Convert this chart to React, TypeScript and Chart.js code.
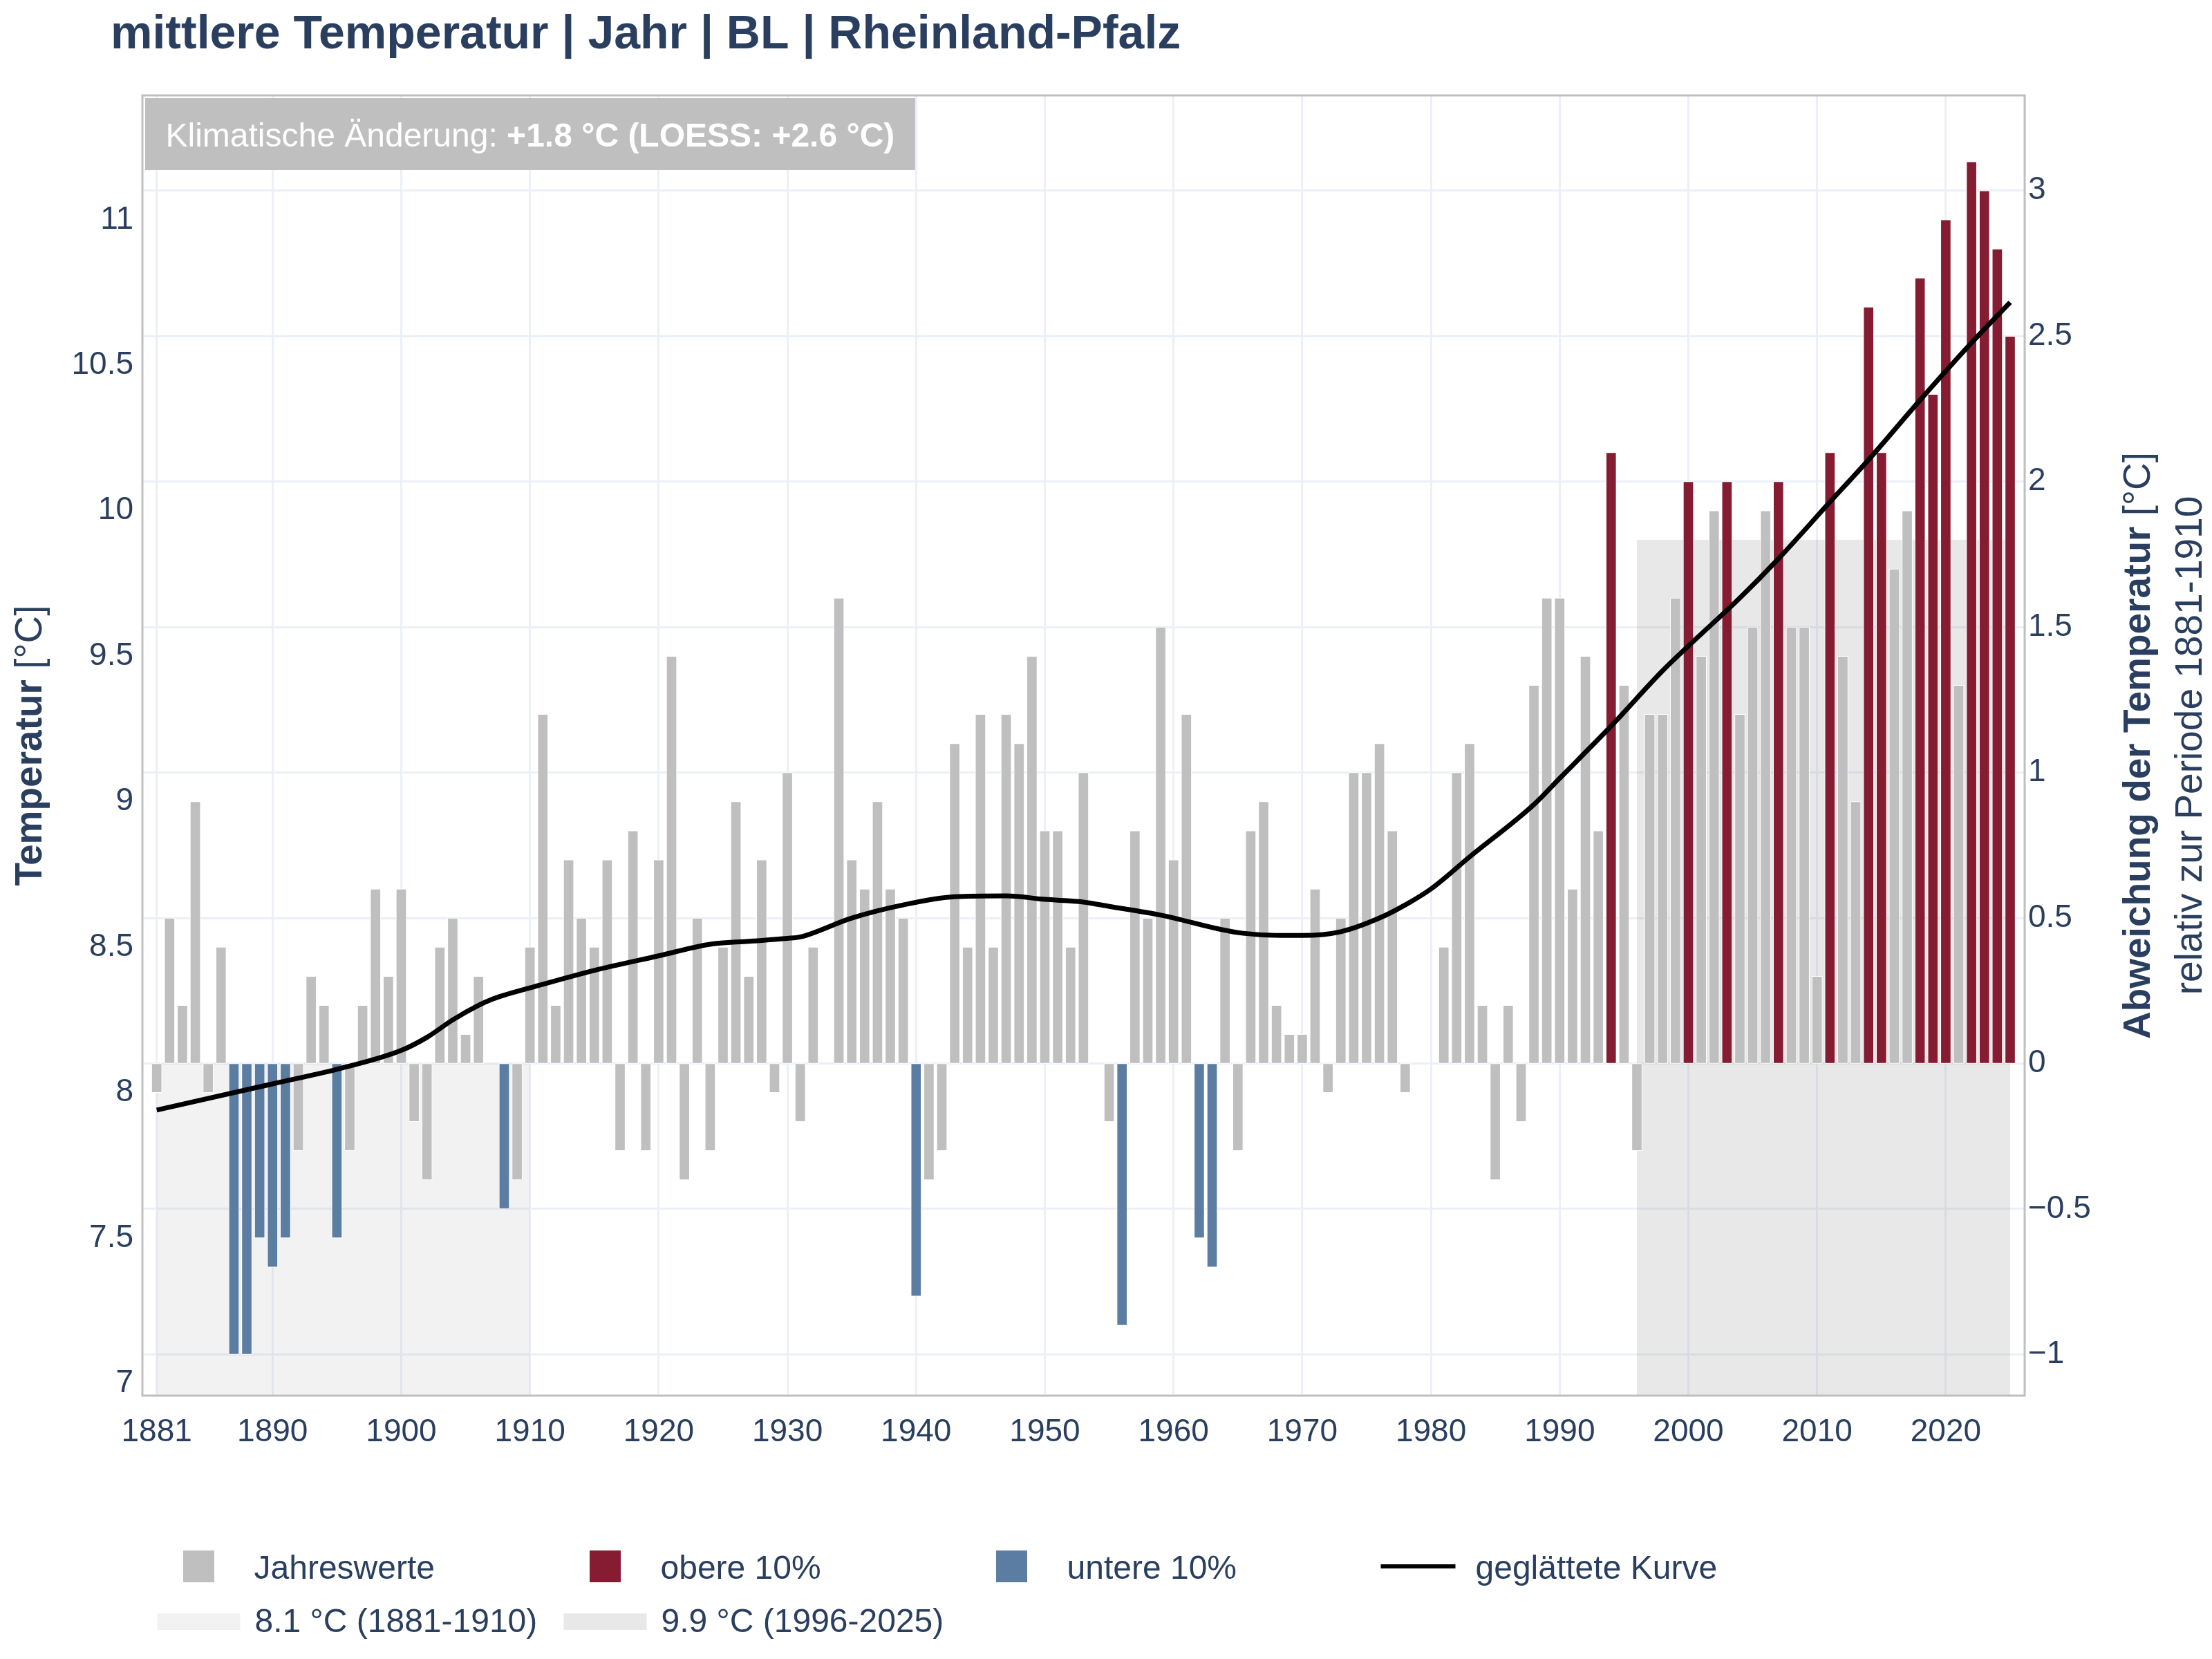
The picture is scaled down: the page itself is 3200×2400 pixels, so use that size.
import React, { useEffect, useRef } from "react";
import { Chart, registerables } from "chart.js";

Chart.register(...registerables);

// Annual mean temperature, Rheinland-Pfalz (°C), one value per year from 1881
const FIRST_YEAR = 1881;
const annualMeans = [
  8.0, 8.6, 8.3, 9.0, 8.0, 8.5, 7.1, 7.1, 7.5, 7.4, // 1881-1890
  7.5, 7.8, 8.4, 8.3, 7.5, 7.8, 8.3, 8.7, 8.4, 8.7, // 1891-1900
  7.9, 7.7, 8.5, 8.6, 8.2, 8.4, 8.1, 7.6, 7.7, 8.5, // 1901-1910
  9.3, 8.3, 8.8, 8.6, 8.5, 8.8, 7.8, 8.9, 7.8, 8.8, // 1911-1920
  9.5, 7.7, 8.6, 7.8, 8.5, 9.0, 8.4, 8.8, 8.0, 9.1, // 1921-1930
  7.9, 8.5, 8.1, 9.7, 8.8, 8.7, 9.0, 8.7, 8.6, 7.3, // 1931-1940
  7.7, 7.8, 9.2, 8.5, 9.3, 8.5, 9.3, 9.2, 9.5, 8.9, // 1941-1950
  8.9, 8.5, 9.1, 8.1, 7.9, 7.2, 8.9, 8.6, 9.6, 8.8, // 1951-1960
  9.3, 7.5, 7.4, 8.6, 7.8, 8.9, 9.0, 8.3, 8.2, 8.2, // 1961-1970
  8.7, 8.0, 8.6, 9.1, 9.1, 9.2, 8.9, 8.0, 8.1, 8.1, // 1971-1980
  8.5, 9.1, 9.2, 8.3, 7.7, 8.3, 7.9, 9.4, 9.7, 9.7, // 1981-1990
  8.7, 9.5, 8.9, 10.2, 9.4, 7.8, 9.3, 9.3, 9.7, 10.1, // 1991-2000
  9.5, 10.0, 10.1, 9.3, 9.6, 10.0, 10.1, 9.6, 9.6, 8.4, // 2001-2010
  10.2, 9.5, 9.0, 10.7, 10.2, 9.8, 10.0, 10.8, 10.4, 11.0, // 2011-2020
  9.4, 11.2, 11.1, 10.9, 10.6, // 2021-2025
];
const years = annualMeans.map((_, i) => FIRST_YEAR + i);

// Years in the warmest / coldest 10 %
const warmestYears = [1994, 2000, 2003, 2007, 2011, 2014, 2015, 2018, 2019, 2020, 2022, 2023, 2024, 2025];
const coldestYears = [1887, 1888, 1889, 1890, 1891, 1895, 1908, 1940, 1956, 1962, 1963];

// LOESS-smoothed curve (°C)
const smoothYears = [
  1881, 1890, 1895, 1900, 1902, 1904, 1906, 1907, 1908, 1910, 1915, 1920, 1924, 1927, 1930,
  1931, 1935, 1939, 1943, 1947, 1950, 1953, 1955, 1959, 1965, 1969, 1970, 1973, 1976,
  1978, 1980, 1983, 1988, 1990, 1994, 1998, 2000, 2004, 2007, 2011, 2014, 2018, 2022, 2025,
];
const smoothMeans = [
  7.94, 8.03, 8.08, 8.145, 8.19, 8.25, 8.3, 8.32, 8.335, 8.36, 8.42, 8.47, 8.51, 8.52, 8.53,
  8.535, 8.6, 8.645, 8.673, 8.676, 8.664, 8.655, 8.64, 8.61, 8.55, 8.54, 8.54, 8.553, 8.6,
  8.645, 8.7, 8.81, 8.99, 9.08, 9.26, 9.45, 9.535, 9.7, 9.835, 10.03, 10.175, 10.38, 10.577, 10.716,
];

// Climate periods: reference 1881-1910 and recent 1996-2025
const periodStarts = [1881, 1996];
const periodEnds = [1910, 2025];
const periodMeans = [8.1, 9.9];
const loessChange = 2.6;

// Axis ticks
const tempTicks = [7, 7.5, 8, 8.5, 9, 9.5, 10, 10.5, 11];
const anomalyTicks = [-1, -0.5, 0, 0.5, 1, 1.5, 2, 2.5, 3];
const yearTicks = [1881, 1890, 1900, 1910, 1920, 1930, 1940, 1950, 1960, 1970, 1980, 1990, 2000, 2010, 2020];

const TITLE = "mittlere Temperatur | Jahr | BL | Rheinland-Pfalz";

const FONT = "'Liberation Sans', Arial, Helvetica, sans-serif";
const INK = "#2a3f5f";
const GRID = "#ebf0f8";
const GREY = "#bfbfbf";
const RED = "#861c32";
const BLUE = "#5b7da1";
const SHADES = ["rgba(128,128,128,0.1)", "rgba(128,128,128,0.18)"];
const SHADE_SWATCH = ["#f2f2f2", "#e8e8e8"];

type Run = { text: string; bold?: boolean };

const fontSpec = (size: number, bold?: boolean) => `${bold ? "bold " : ""}${size}px ${FONT}`;

function runsWidth(ctx: CanvasRenderingContext2D, runs: Run[], size: number) {
  let w = 0;
  for (const r of runs) {
    ctx.font = fontSpec(size, r.bold);
    w += ctx.measureText(r.text).width;
  }
  return w;
}

function drawRuns(ctx: CanvasRenderingContext2D, runs: Run[], x: number, y: number, size: number, color: string) {
  ctx.fillStyle = color;
  ctx.textBaseline = "alphabetic";
  ctx.textAlign = "left";
  let cx = x;
  for (const r of runs) {
    ctx.font = fontSpec(size, r.bold);
    ctx.fillText(r.text, cx, y);
    cx += ctx.measureText(r.text).width;
  }
}

function drawVertical(ctx: CanvasRenderingContext2D, runs: Run[], baselineX: number, centerY: number, size: number) {
  ctx.save();
  ctx.translate(baselineX, centerY);
  ctx.rotate(-Math.PI / 2);
  const w = runsWidth(ctx, runs, size);
  drawRuns(ctx, runs, -w / 2, 0, size, INK);
  ctx.restore();
}

const decorPlugin = {
  id: "decor",
  beforeDatasetsDraw(chart: any) {
    const { ctx, chartArea, scales } = chart;
    const x = scales.x;
    const y = scales.y;
    ctx.save();
    periodStarts.forEach((start, i) => {
      const left = x.getPixelForValue(start);
      const right = x.getPixelForValue(periodEnds[i]);
      const top = y.getPixelForValue(periodMeans[i]);
      ctx.fillStyle = SHADES[i];
      ctx.fillRect(left, top, right - left, chartArea.bottom - top);
    });
    ctx.restore();
  },
  afterDraw(chart: any) {
    const { ctx, chartArea } = chart;
    ctx.save();

    // frame around the plot
    ctx.strokeStyle = GREY;
    ctx.lineWidth = 3;
    ctx.strokeRect(chartArea.left, chartArea.top, chartArea.right - chartArea.left, chartArea.bottom - chartArea.top);

    // title
    drawRuns(ctx, [{ text: TITLE, bold: true }], 160, 70, 68, INK);

    // climate change box
    const change = (periodMeans[1] - periodMeans[0]).toFixed(1);
    const boxRuns: Run[] = [
      { text: "Klimatische Änderung: " },
      { text: `+${change} °C (LOESS: +${loessChange.toFixed(1)} °C)`, bold: true },
    ];
    const bw = runsWidth(ctx, boxRuns, 48);
    ctx.fillStyle = GREY;
    ctx.fillRect(210, 142, bw + 59, 104);
    drawRuns(ctx, boxRuns, 239.5, 212, 48, "#ffffff");

    // axis titles
    const midY = (chartArea.top + chartArea.bottom) / 2;
    drawVertical(ctx, [{ text: "Temperatur", bold: true }, { text: " [°C]" }], 60, midY, 55);
    drawVertical(ctx, [{ text: "Abweichung der Temperatur", bold: true }, { text: " [°C]" }], 3110, midY, 55);
    drawVertical(ctx, [{ text: `relativ zur Periode ${periodStarts[0]}-${periodEnds[0]}` }], 3185, midY, 55);

    // legend
    const colCenter = (k: number) => 287.5 + k * 588;
    const row1 = 2266;
    const row2 = 2346;
    const items = [
      { label: "Jahreswerte", color: GREY, line: false },
      { label: "obere 10%", color: RED, line: false },
      { label: "untere 10%", color: BLUE, line: false },
      { label: "geglättete Kurve", color: "#000000", line: true },
    ];
    items.forEach((it, k) => {
      const c = colCenter(k);
      if (it.line) {
        ctx.strokeStyle = it.color;
        ctx.lineWidth = 6;
        ctx.beginPath();
        ctx.moveTo(c - 54, row1);
        ctx.lineTo(c + 54, row1);
        ctx.stroke();
      } else {
        ctx.fillStyle = it.color;
        ctx.fillRect(c - 22.5, row1 - 23, 45, 46);
      }
      drawRuns(ctx, [{ text: it.label }], c + (it.line ? 83 : 80), row1 + 18, 48, INK);
    });
    periodStarts.forEach((start, k) => {
      const c = colCenter(k);
      ctx.fillStyle = SHADE_SWATCH[k];
      ctx.fillRect(c - 60, row2 - 12, 120, 24);
      drawRuns(ctx, [{ text: `${periodMeans[k].toFixed(1)} °C (${start}-${periodEnds[k]})` }], c + 81, row2 + 15, 48, INK);
    });

    ctx.restore();
  },
};

export default function App() {
  const canvasRef = useRef<HTMLCanvasElement>(null);

  useEffect(() => {
    const refMean = periodMeans[0];
    const barColors = years.map((yr) =>
      warmestYears.includes(yr) ? RED : coldestYears.includes(yr) ? BLUE : GREY
    );
    const tickFont = { family: FONT, size: 46 };
    const anomalyMin = -1.1416;
    const anomalyMax = 3.3274;

    const chart = new Chart(canvasRef.current as HTMLCanvasElement, {
      type: "bar",
      data: {
        datasets: [
          {
            type: "line",
            label: "geglättete Kurve",
            data: smoothYears.map((yr, i) => ({ x: yr, y: smoothMeans[i] })),
            borderColor: "#000000",
            borderWidth: 7,
            pointRadius: 0,
            cubicInterpolationMode: "monotone",
            fill: false,
            xAxisID: "x",
            yAxisID: "y",
            order: 0,
          } as any,
          {
            type: "bar",
            label: "Jahreswerte",
            data: years.map((yr, i) => ({ x: yr, y: annualMeans[i] })),
            base: refMean,
            backgroundColor: barColors,
            borderColor: "#ffffff",
            borderWidth: 1,
            borderSkipped: false,
            barThickness: 15,
            xAxisID: "x",
            yAxisID: "y",
            order: 1,
          } as any,
        ],
      },
      options: {
        animation: false,
        responsive: false,
        devicePixelRatio: 1,
        layout: { padding: { top: 138, left: 0, right: 0, bottom: 0 } },
        plugins: {
          legend: { display: false },
          title: { display: false },
          tooltip: { enabled: false },
        },
        scales: {
          x: {
            type: "linear",
            offset: false,
            min: 1879.888,
            max: 2026.128,
            afterBuildTicks: (s: any) => {
              s.ticks = yearTicks.map((v) => ({ value: v }));
            },
            afterFit: (s: any) => {
              s.height = 381;
            },
            ticks: {
              autoSkip: false,
              maxRotation: 0,
              minRotation: 0,
              padding: 26,
              color: INK,
              font: tickFont,
              callback: (v: any) => String(v),
            },
            grid: { color: GRID, lineWidth: 3, drawTicks: false, offset: false },
            border: { display: false },
          },
          y: {
            type: "linear",
            position: "left",
            min: refMean + anomalyMin,
            max: refMean + anomalyMax,
            afterBuildTicks: (s: any) => {
              s.ticks = tempTicks.map((v) => ({ value: v }));
            },
            afterFit: (s: any) => {
              s.width = 206;
            },
            ticks: { padding: 13, color: INK, font: tickFont, callback: (v: any) => String(v) },
            grid: { display: false, drawTicks: false },
            border: { display: false },
          },
          y2: {
            type: "linear",
            position: "right",
            min: anomalyMin,
            max: anomalyMax,
            afterBuildTicks: (s: any) => {
              s.ticks = anomalyTicks.map((v) => ({ value: v }));
            },
            afterFit: (s: any) => {
              s.width = 271;
            },
            ticks: {
              padding: 5,
              color: INK,
              font: tickFont,
              callback: (v: any) => (v < 0 ? "\u2212" + Math.abs(v) : String(v)),
            },
            grid: { color: GRID, lineWidth: 3, drawTicks: false },
            border: { display: false },
          },
        },
      } as any,
      plugins: [decorPlugin],
    });

    return () => chart.destroy();
  }, []);

  return (
    <div style={{ position: "absolute", left: 0, top: 0, width: 3200, height: 2400, background: "#ffffff" }}>
      <canvas ref={canvasRef} width={3200} height={2400} style={{ display: "block", width: 3200, height: 2400 }} />
    </div>
  );
}
